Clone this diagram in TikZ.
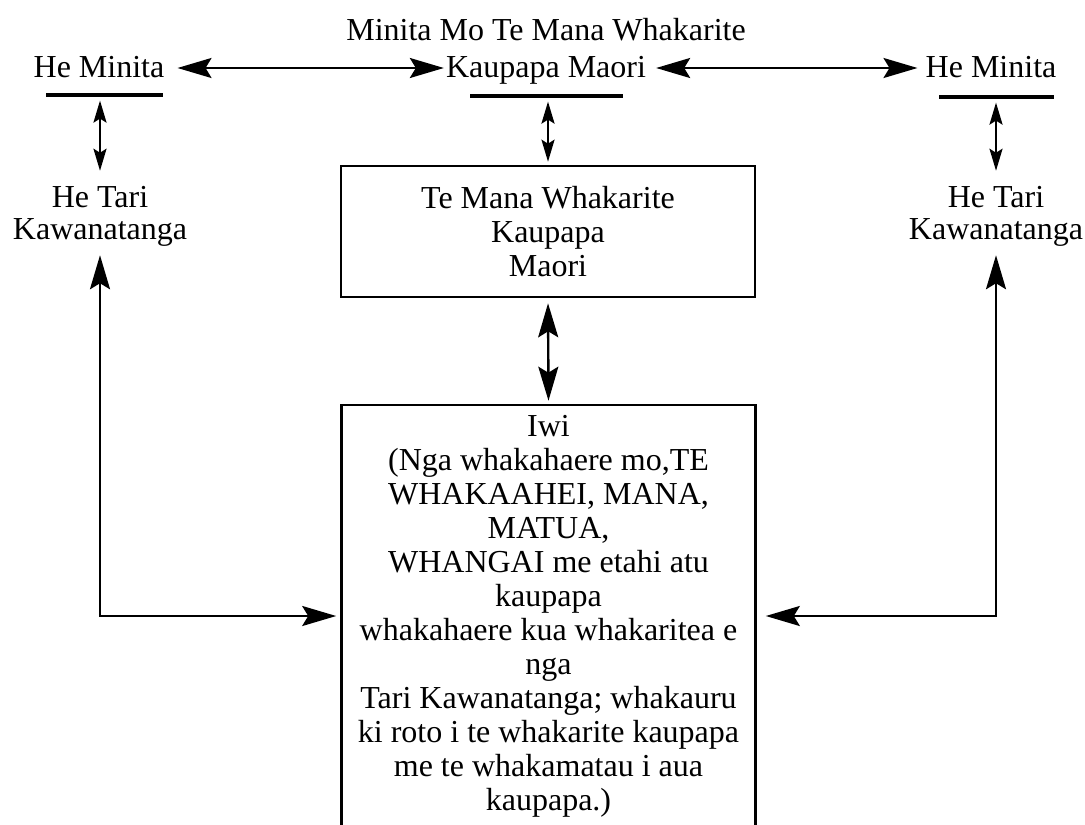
\documentclass[tikz,border=0pt]{standalone}
\usepackage{fontspec}
\setmainfont{Liberation Serif}
\usetikzlibrary{arrows.meta,positioning,calc}

\begin{document}
\begin{tikzpicture}[x=0.5pt, y=-0.5pt, line width=1.2pt]
  \tikzstyle{lbl}=[inner sep=0pt, align=center, font=\fontsize{16}{16}\selectfont]
  \tikzstyle{box}=[draw, line width=1.3pt, inner sep=0pt, align=center, minimum width=207pt, font=\fontsize{16}{17}\selectfont]
  \tikzstyle{bar}=[fill=black, inner sep=0pt, minimum height=2.4pt]
  \tikzstyle{big}=[<->, >={Stealth[length=17pt, width=10pt, inset=3pt]}]
  \tikzstyle{small}=[<->, >={Stealth[length=11pt, width=6.5pt, inset=2pt]}]
  \useasboundingbox (0,0) rectangle (1085,824);
  % top row
  \node[lbl, anchor=base] (hm1) at (99,78) {He Minita};
  \node[lbl, anchor=base] (mm) at (546,78) {Kaupapa Maori};
  \node[lbl, anchor=base] (mmhead) at (546,41) {Minita Mo Te Mana Whakarite};
  \node[lbl, anchor=base] (hm2) at (991,78) {He Minita};
  \node[bar, minimum width=58.5pt] (u1) at (104.5,95) {};
  \node[bar, minimum width=76.5pt] (u2) at (546.5,96) {};
  \node[bar, minimum width=57.5pt] (u3) at (996.5,97) {};
  % departments and boxes
  \node[lbl] (ht1) at (100,216) {He Tari\\Kawanatanga};
  \node[lbl] (ht2) at (996,216) {He Tari\\Kawanatanga};
  \node[box, minimum height=65.5pt] (tmw) at (548,231.5) {Te Mana Whakarite\\Kaupapa\\Maori};
  \node[box, minimum height=211pt] (iwi) at (548.5,616) {Iwi\\(Nga whakahaere mo,TE\\WHAKAAHEI, MANA,\\MATUA,\\WHANGAI me etahi atu\\kaupapa\\whakahaere kua whakaritea e\\nga\\Tari Kawanatanga; whakauru\\ki roto i te whakarite kaupapa\\me te whakamatau i aua\\kaupapa.)};
  % connectors
  \draw[big, shorten <=6pt, shorten >=0.5pt] ([yshift=5pt]hm1.base east) -- ([yshift=5pt]mm.base west);
  \draw[big, shorten <=4.5pt, shorten >=3.5pt] ([yshift=5pt]mm.base east) -- ([yshift=5pt]hm2.base west);
  \draw[small, shorten <=1pt, shorten >=7pt] (ht1.north |- u1.south) -- (ht1.north);
  \draw[small, shorten <=1pt, shorten >=1.5pt] (tmw.north |- u2.south) -- (tmw.north);
  \draw[small, shorten <=1pt, shorten >=7pt] (ht2.north |- u3.south) -- (ht2.north);
  \draw[big, shorten <=2.5pt, shorten >=1.5pt] (tmw.south) -- (iwi.north);
  \draw[big, shorten <=4pt, shorten >=2pt] (ht1.south) |- (iwi.west);
  \draw[big, shorten <=4pt, shorten >=4.5pt] (ht2.south) |- (iwi.east);
\end{tikzpicture}
\end{document}
